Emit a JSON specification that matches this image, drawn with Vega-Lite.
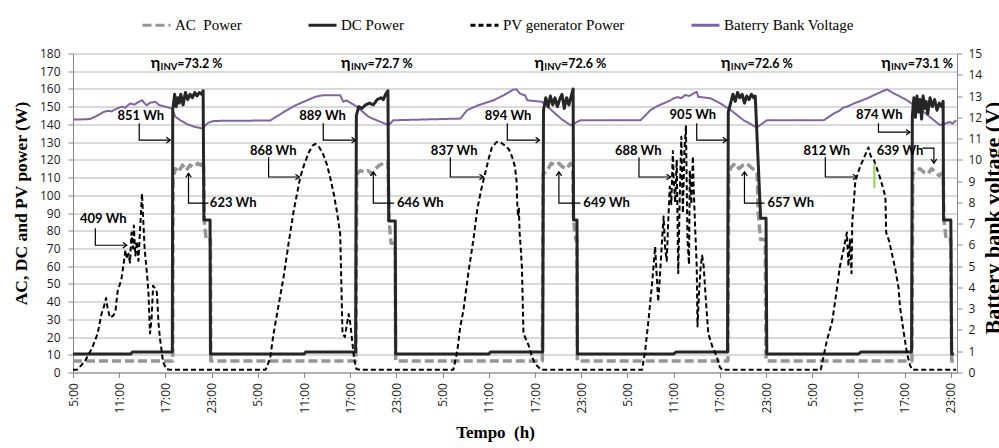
{
 "$schema": "https://vega.github.io/schema/vega-lite/v6.json",
 "autosize": {"type": "none"},
 "width": 884,
 "height": 319,
 "padding": {"left": 73, "top": 53.5, "right": 42, "bottom": 75.5},
 "background": "#ffffff",
 "config": {
  "view": {"stroke": null},
  "legend": {"symbolType": "stroke", "symbolSize": 784, "labelFont": "Liberation Serif", "labelFontSize": 15, "labelColor": "#000000", "columnPadding": 60, "labelOffset": 3, "padding": 0, "rowPadding": 0, "symbolStrokeWidth": 3}
 },
 "datasets": {
  "power": [
   {"s":"AC","t":0,"W":6.5},{"s":"AC","t":12.95,"W":6.5},{"s":"AC","t":13.0,"W":110},{"s":"AC","t":13.3,"W":115},{"s":"AC","t":13.7,"W":113},{"s":"AC","t":14.2,"W":117},{"s":"AC","t":14.7,"W":114},{"s":"AC","t":15.2,"W":117},{"s":"AC","t":15.7,"W":116},{"s":"AC","t":16.2,"W":118},{"s":"AC","t":16.6,"W":117},{"s":"AC","t":16.95,"W":119},{"s":"AC","t":17.05,"W":85},{"s":"AC","t":17.3,"W":75},{"s":"AC","t":17.85,"W":75},{"s":"AC","t":17.9,"W":6.5},
   {"s":"AC","t":36.75,"W":6.5},{"s":"AC","t":36.85,"W":112},{"s":"AC","t":37.3,"W":114},{"s":"AC","t":37.8,"W":113},{"s":"AC","t":38.3,"W":114},{"s":"AC","t":38.8,"W":112},{"s":"AC","t":39.3,"W":115},{"s":"AC","t":39.8,"W":117},{"s":"AC","t":40.3,"W":118},{"s":"AC","t":40.9,"W":119},{"s":"AC","t":41.05,"W":86},{"s":"AC","t":41.3,"W":73},{"s":"AC","t":41.85,"W":73},{"s":"AC","t":41.9,"W":6.5},
   {"s":"AC","t":60.95,"W":6.5},{"s":"AC","t":61.05,"W":112},{"s":"AC","t":61.6,"W":114},{"s":"AC","t":62.1,"W":118},{"s":"AC","t":62.6,"W":117},{"s":"AC","t":63.1,"W":118},{"s":"AC","t":63.6,"W":116},{"s":"AC","t":64.1,"W":115},{"s":"AC","t":64.6,"W":118},{"s":"AC","t":64.9,"W":117},{"s":"AC","t":65.0,"W":86},{"s":"AC","t":65.3,"W":75},{"s":"AC","t":65.45,"W":75},{"s":"AC","t":65.5,"W":6.5},
   {"s":"AC","t":85.05,"W":6.5},{"s":"AC","t":85.15,"W":113},{"s":"AC","t":85.5,"W":116},{"s":"AC","t":86.0,"W":118},{"s":"AC","t":86.5,"W":115},{"s":"AC","t":87.0,"W":117},{"s":"AC","t":87.5,"W":118},{"s":"AC","t":88.0,"W":116},{"s":"AC","t":88.5,"W":114},{"s":"AC","t":88.85,"W":113},{"s":"AC","t":89.0,"W":89},{"s":"AC","t":89.3,"W":75},{"s":"AC","t":89.9,"W":75},{"s":"AC","t":90.0,"W":6.5},
   {"s":"AC","t":108.95,"W":6.5},{"s":"AC","t":109.05,"W":112},{"s":"AC","t":109.5,"W":114},{"s":"AC","t":110.0,"W":115},{"s":"AC","t":110.5,"W":113},{"s":"AC","t":111.0,"W":112},{"s":"AC","t":111.5,"W":115},{"s":"AC","t":112.0,"W":113},{"s":"AC","t":112.5,"W":111},{"s":"AC","t":113.0,"W":113},{"s":"AC","t":113.1,"W":86},{"s":"AC","t":113.4,"W":75},{"s":"AC","t":114.0,"W":75},{"s":"AC","t":114.1,"W":6.5},{"s":"AC","t":114.7,"W":6.5},
   {"s":"DC","t":0,"W":10.5},{"s":"DC","t":7.5,"W":10.5},{"s":"DC","t":7.7,"W":11.5},{"s":"DC","t":12.9,"W":11.5},{"s":"DC","t":12.95,"W":148},{"s":"DC","t":13.2,"W":157},{"s":"DC","t":13.4,"W":150},{"s":"DC","t":13.6,"W":155},{"s":"DC","t":13.8,"W":152},{"s":"DC","t":14.0,"W":157},{"s":"DC","t":14.3,"W":151},{"s":"DC","t":14.6,"W":158},{"s":"DC","t":14.9,"W":154},{"s":"DC","t":15.2,"W":157},{"s":"DC","t":15.5,"W":155},{"s":"DC","t":15.8,"W":158},{"s":"DC","t":16.1,"W":156},{"s":"DC","t":16.4,"W":158},{"s":"DC","t":16.7,"W":157},{"s":"DC","t":16.9,"W":159},{"s":"DC","t":17.0,"W":86},{"s":"DC","t":17.8,"W":86},{"s":"DC","t":17.85,"W":10.5},
   {"s":"DC","t":30.0,"W":10.5},{"s":"DC","t":30.2,"W":11.5},{"s":"DC","t":36.7,"W":11.5},{"s":"DC","t":36.8,"W":145},{"s":"DC","t":37.1,"W":150},{"s":"DC","t":37.5,"W":149},{"s":"DC","t":38.0,"W":151},{"s":"DC","t":38.5,"W":152},{"s":"DC","t":39.0,"W":151},{"s":"DC","t":39.5,"W":154},{"s":"DC","t":40.0,"W":155},{"s":"DC","t":40.3,"W":154},{"s":"DC","t":40.6,"W":157},{"s":"DC","t":40.9,"W":159},{"s":"DC","t":41.0,"W":85.5},{"s":"DC","t":41.85,"W":85.5},{"s":"DC","t":41.9,"W":10.5},
   {"s":"DC","t":54.0,"W":10.5},{"s":"DC","t":54.2,"W":11.5},{"s":"DC","t":61.0,"W":11.5},{"s":"DC","t":61.1,"W":148},{"s":"DC","t":61.4,"W":155},{"s":"DC","t":61.7,"W":150},{"s":"DC","t":62.0,"W":156},{"s":"DC","t":62.3,"W":151},{"s":"DC","t":62.6,"W":155},{"s":"DC","t":62.9,"W":150},{"s":"DC","t":63.2,"W":154},{"s":"DC","t":63.5,"W":157},{"s":"DC","t":63.8,"W":149},{"s":"DC","t":64.1,"W":155},{"s":"DC","t":64.4,"W":151},{"s":"DC","t":64.7,"W":156},{"s":"DC","t":64.95,"W":160},{"s":"DC","t":65.0,"W":86},{"s":"DC","t":65.45,"W":86},{"s":"DC","t":65.5,"W":10.5},
   {"s":"DC","t":78.0,"W":10.5},{"s":"DC","t":78.3,"W":11.5},{"s":"DC","t":85.0,"W":11.5},{"s":"DC","t":85.1,"W":147},{"s":"DC","t":85.4,"W":152},{"s":"DC","t":85.7,"W":157},{"s":"DC","t":86.0,"W":153},{"s":"DC","t":86.3,"W":158},{"s":"DC","t":86.6,"W":155},{"s":"DC","t":86.9,"W":157},{"s":"DC","t":87.2,"W":152},{"s":"DC","t":87.5,"W":156},{"s":"DC","t":87.8,"W":154},{"s":"DC","t":88.1,"W":157},{"s":"DC","t":88.4,"W":155},{"s":"DC","t":88.6,"W":156},{"s":"DC","t":89.3,"W":87},{"s":"DC","t":90.0,"W":87},{"s":"DC","t":90.1,"W":10.5},
   {"s":"DC","t":102.0,"W":10.5},{"s":"DC","t":102.3,"W":11.5},{"s":"DC","t":108.9,"W":11.5},{"s":"DC","t":109.0,"W":145},{"s":"DC","t":109.2,"W":155},{"s":"DC","t":109.4,"W":144},{"s":"DC","t":109.6,"W":156},{"s":"DC","t":109.8,"W":147},{"s":"DC","t":110.0,"W":154},{"s":"DC","t":110.2,"W":143},{"s":"DC","t":110.4,"W":156},{"s":"DC","t":110.6,"W":149},{"s":"DC","t":110.8,"W":153},{"s":"DC","t":111.0,"W":146},{"s":"DC","t":111.3,"W":155},{"s":"DC","t":111.6,"W":150},{"s":"DC","t":111.9,"W":154},{"s":"DC","t":112.2,"W":148},{"s":"DC","t":112.5,"W":152},{"s":"DC","t":112.8,"W":150},{"s":"DC","t":113.0,"W":153},{"s":"DC","t":113.05,"W":86},{"s":"DC","t":114.0,"W":86},{"s":"DC","t":114.1,"W":10.5},{"s":"DC","t":114.4,"W":10.5},
   {"s":"PV","t":0,"W":1.5},{"s":"PV","t":0.5,"W":1.5},{"s":"PV","t":1.5,"W":6},{"s":"PV","t":2.5,"W":14},{"s":"PV","t":3.2,"W":22},{"s":"PV","t":3.7,"W":33},{"s":"PV","t":4.0,"W":37},{"s":"PV","t":4.3,"W":42},{"s":"PV","t":4.5,"W":36},{"s":"PV","t":4.8,"W":31},{"s":"PV","t":5.2,"W":32},{"s":"PV","t":5.5,"W":34},{"s":"PV","t":5.8,"W":46},{"s":"PV","t":6.1,"W":50},{"s":"PV","t":6.3,"W":53},{"s":"PV","t":6.6,"W":62},{"s":"PV","t":6.8,"W":69},{"s":"PV","t":7.0,"W":64},{"s":"PV","t":7.2,"W":67},{"s":"PV","t":7.4,"W":62},{"s":"PV","t":7.6,"W":79},{"s":"PV","t":7.8,"W":70},{"s":"PV","t":7.9,"W":83},{"s":"PV","t":8.1,"W":66},{"s":"PV","t":8.3,"W":74},{"s":"PV","t":8.5,"W":63},{"s":"PV","t":8.7,"W":80},{"s":"PV","t":8.96,"W":101},{"s":"PV","t":9.1,"W":88},{"s":"PV","t":9.3,"W":70},{"s":"PV","t":9.6,"W":56},{"s":"PV","t":9.8,"W":45},{"s":"PV","t":10.0,"W":22},{"s":"PV","t":10.2,"W":30},{"s":"PV","t":10.4,"W":49},{"s":"PV","t":10.7,"W":47},{"s":"PV","t":10.9,"W":45},{"s":"PV","t":11.1,"W":28},{"s":"PV","t":11.3,"W":19},{"s":"PV","t":11.7,"W":6},{"s":"PV","t":12.1,"W":2},{"s":"PV","t":12.6,"W":1.5},
   {"s":"PV","t":25.0,"W":1.5},{"s":"PV","t":25.6,"W":8},{"s":"PV","t":26.05,"W":22},{"s":"PV","t":26.7,"W":38},{"s":"PV","t":27.35,"W":54},{"s":"PV","t":28.0,"W":73},{"s":"PV","t":28.65,"W":91},{"s":"PV","t":29.1,"W":101},{"s":"PV","t":29.5,"W":110},{"s":"PV","t":30.0,"W":117},{"s":"PV","t":30.6,"W":124},{"s":"PV","t":31.1,"W":128},{"s":"PV","t":31.5,"W":129},{"s":"PV","t":32.0,"W":127},{"s":"PV","t":32.5,"W":123},{"s":"PV","t":33.0,"W":117},{"s":"PV","t":33.4,"W":110},{"s":"PV","t":33.9,"W":100},{"s":"PV","t":34.3,"W":90},{"s":"PV","t":34.7,"W":78},{"s":"PV","t":34.85,"W":50},{"s":"PV","t":35.0,"W":22},{"s":"PV","t":35.3,"W":20},{"s":"PV","t":35.6,"W":28},{"s":"PV","t":35.8,"W":33},{"s":"PV","t":36.0,"W":28},{"s":"PV","t":36.2,"W":20},{"s":"PV","t":36.5,"W":8},{"s":"PV","t":36.8,"W":2},{"s":"PV","t":37.3,"W":1.5},
   {"s":"PV","t":49.4,"W":1.5},{"s":"PV","t":49.9,"W":12},{"s":"PV","t":50.3,"W":26},{"s":"PV","t":50.7,"W":35},{"s":"PV","t":51.4,"W":58},{"s":"PV","t":52.0,"W":75},{"s":"PV","t":52.5,"W":92},{"s":"PV","t":53.0,"W":103},{"s":"PV","t":53.5,"W":112},{"s":"PV","t":54.0,"W":121},{"s":"PV","t":54.4,"W":127},{"s":"PV","t":55.0,"W":130},{"s":"PV","t":55.5,"W":130},{"s":"PV","t":56.1,"W":128},{"s":"PV","t":56.6,"W":126},{"s":"PV","t":57.0,"W":122},{"s":"PV","t":57.4,"W":116},{"s":"PV","t":57.6,"W":108},{"s":"PV","t":57.7,"W":95},{"s":"PV","t":57.8,"W":88},{"s":"PV","t":57.9,"W":93},{"s":"PV","t":58.0,"W":79},{"s":"PV","t":58.15,"W":70},{"s":"PV","t":58.3,"W":59},{"s":"PV","t":58.5,"W":22},{"s":"PV","t":58.9,"W":18},{"s":"PV","t":59.2,"W":15},{"s":"PV","t":59.6,"W":9},{"s":"PV","t":60.0,"W":5},{"s":"PV","t":60.8,"W":1.5},
   {"s":"PV","t":73.9,"W":1.5},{"s":"PV","t":74.3,"W":12},{"s":"PV","t":74.75,"W":30},{"s":"PV","t":75.2,"W":50},{"s":"PV","t":75.6,"W":71},{"s":"PV","t":75.8,"W":55},{"s":"PV","t":76.0,"W":40},{"s":"PV","t":76.3,"W":60},{"s":"PV","t":76.5,"W":75},{"s":"PV","t":76.7,"W":88},{"s":"PV","t":76.9,"W":70},{"s":"PV","t":77.1,"W":63},{"s":"PV","t":77.3,"W":85},{"s":"PV","t":77.5,"W":105},{"s":"PV","t":77.7,"W":95},{"s":"PV","t":77.9,"W":125},{"s":"PV","t":78.0,"W":110},{"s":"PV","t":78.2,"W":96},{"s":"PV","t":78.4,"W":120},{"s":"PV","t":78.6,"W":56},{"s":"PV","t":78.8,"W":100},{"s":"PV","t":79.0,"W":133},{"s":"PV","t":79.2,"W":90},{"s":"PV","t":79.4,"W":125},{"s":"PV","t":79.6,"W":139},{"s":"PV","t":79.8,"W":75},{"s":"PV","t":80.0,"W":61},{"s":"PV","t":80.1,"W":114},{"s":"PV","t":80.3,"W":95},{"s":"PV","t":80.5,"W":122},{"s":"PV","t":80.6,"W":105},{"s":"PV","t":80.8,"W":81},{"s":"PV","t":81.0,"W":60},{"s":"PV","t":81.1,"W":26},{"s":"PV","t":81.3,"W":45},{"s":"PV","t":81.5,"W":59},{"s":"PV","t":81.7,"W":66},{"s":"PV","t":81.9,"W":60},{"s":"PV","t":82.2,"W":40},{"s":"PV","t":82.5,"W":22},{"s":"PV","t":83.0,"W":15},{"s":"PV","t":83.6,"W":9},{"s":"PV","t":84.0,"W":3},{"s":"PV","t":84.3,"W":1.5},
   {"s":"PV","t":97.1,"W":1.5},{"s":"PV","t":97.9,"W":18},{"s":"PV","t":98.6,"W":29},{"s":"PV","t":99.1,"W":44},{"s":"PV","t":99.6,"W":60},{"s":"PV","t":100.1,"W":70},{"s":"PV","t":100.5,"W":79},{"s":"PV","t":100.7,"W":60},{"s":"PV","t":100.9,"W":75},{"s":"PV","t":101.1,"W":56},{"s":"PV","t":101.2,"W":85},{"s":"PV","t":101.4,"W":96},{"s":"PV","t":101.6,"W":108},{"s":"PV","t":101.9,"W":112},{"s":"PV","t":102.2,"W":116},{"s":"PV","t":102.7,"W":121},{"s":"PV","t":103.3,"W":127},{"s":"PV","t":103.6,"W":122},{"s":"PV","t":104.0,"W":120},{"s":"PV","t":104.4,"W":115},{"s":"PV","t":104.8,"W":110},{"s":"PV","t":105.2,"W":104},{"s":"PV","t":105.5,"W":99},{"s":"PV","t":105.6,"W":79},{"s":"PV","t":106.0,"W":74},{"s":"PV","t":106.4,"W":66},{"s":"PV","t":106.8,"W":58},{"s":"PV","t":107.2,"W":48},{"s":"PV","t":107.4,"W":37},{"s":"PV","t":107.9,"W":22},{"s":"PV","t":108.3,"W":11},{"s":"PV","t":108.7,"W":4},{"s":"PV","t":109.0,"W":1.5},{"s":"PV","t":114.7,"W":1.5}
  ],
  "volt": [
   {"s":"BV","t":0,"V":11.9},{"s":"BV","t":1,"V":11.9},{"s":"BV","t":2.2,"V":11.92},{"s":"BV","t":3.0,"V":12.05},{"s":"BV","t":4.0,"V":12.25},{"s":"BV","t":4.5,"V":12.3},{"s":"BV","t":5.0,"V":12.28},{"s":"BV","t":5.7,"V":12.41},{"s":"BV","t":6.3,"V":12.5},{"s":"BV","t":6.8,"V":12.45},{"s":"BV","t":7.4,"V":12.65},{"s":"BV","t":8.0,"V":12.6},{"s":"BV","t":8.5,"V":12.72},{"s":"BV","t":9.0,"V":12.8},{"s":"BV","t":9.3,"V":12.65},{"s":"BV","t":9.6,"V":12.57},{"s":"BV","t":10.0,"V":12.68},{"s":"BV","t":10.7,"V":12.73},{"s":"BV","t":11.2,"V":12.57},{"s":"BV","t":12.0,"V":12.5},{"s":"BV","t":12.85,"V":12.41},{"s":"BV","t":13.3,"V":12.02},{"s":"BV","t":14.0,"V":11.85},{"s":"BV","t":14.8,"V":11.68},{"s":"BV","t":15.8,"V":11.55},{"s":"BV","t":16.9,"V":11.47},{"s":"BV","t":17.2,"V":11.63},{"s":"BV","t":17.6,"V":11.75},{"s":"BV","t":18.3,"V":11.83},{"s":"BV","t":25.6,"V":11.85},{"s":"BV","t":26.5,"V":12.05},{"s":"BV","t":27.8,"V":12.34},{"s":"BV","t":29.0,"V":12.58},{"s":"BV","t":30.4,"V":12.8},{"s":"BV","t":31.5,"V":12.97},{"s":"BV","t":32.5,"V":13.04},{"s":"BV","t":34.7,"V":13.04},{"s":"BV","t":35.1,"V":12.73},{"s":"BV","t":35.5,"V":12.8},{"s":"BV","t":36.9,"V":12.49},{"s":"BV","t":38.4,"V":12.02},{"s":"BV","t":39.5,"V":11.85},{"s":"BV","t":41.0,"V":11.63},{"s":"BV","t":41.6,"V":11.86},{"s":"BV","t":50.3,"V":11.94},{"s":"BV","t":51.2,"V":12.34},{"s":"BV","t":52.5,"V":12.55},{"s":"BV","t":54.6,"V":12.8},{"s":"BV","t":56.0,"V":13.05},{"s":"BV","t":57.2,"V":13.31},{"s":"BV","t":57.6,"V":13.31},{"s":"BV","t":58.1,"V":13.1},{"s":"BV","t":58.7,"V":13.04},{"s":"BV","t":59.0,"V":12.8},{"s":"BV","t":60.9,"V":12.73},{"s":"BV","t":62.4,"V":12.25},{"s":"BV","t":63.5,"V":11.9},{"s":"BV","t":64.6,"V":11.63},{"s":"BV","t":65.9,"V":11.86},{"s":"BV","t":73.7,"V":11.86},{"s":"BV","t":75.0,"V":12.34},{"s":"BV","t":75.5,"V":12.45},{"s":"BV","t":76.3,"V":12.6},{"s":"BV","t":77.0,"V":12.7},{"s":"BV","t":77.6,"V":12.8},{"s":"BV","t":78.0,"V":12.89},{"s":"BV","t":78.5,"V":12.95},{"s":"BV","t":79.0,"V":12.9},{"s":"BV","t":79.5,"V":13.05},{"s":"BV","t":80.0,"V":13.0},{"s":"BV","t":80.5,"V":13.1},{"s":"BV","t":81.0,"V":13.2},{"s":"BV","t":81.2,"V":12.96},{"s":"BV","t":82.0,"V":12.93},{"s":"BV","t":82.8,"V":12.89},{"s":"BV","t":84.1,"V":12.65},{"s":"BV","t":85.4,"V":12.34},{"s":"BV","t":87.1,"V":11.86},{"s":"BV","t":88.8,"V":11.52},{"s":"BV","t":90.1,"V":11.86},{"s":"BV","t":97.5,"V":11.86},{"s":"BV","t":98.8,"V":12.18},{"s":"BV","t":99.5,"V":12.3},{"s":"BV","t":100.0,"V":12.45},{"s":"BV","t":100.5,"V":12.5},{"s":"BV","t":101.4,"V":12.65},{"s":"BV","t":102.5,"V":12.8},{"s":"BV","t":103.2,"V":12.9},{"s":"BV","t":104.0,"V":13.04},{"s":"BV","t":105.0,"V":13.2},{"s":"BV","t":105.7,"V":13.31},{"s":"BV","t":106.6,"V":13.12},{"s":"BV","t":107.3,"V":13.0},{"s":"BV","t":108.3,"V":12.8},{"s":"BV","t":109.5,"V":12.5},{"s":"BV","t":110.5,"V":12.25},{"s":"BV","t":111.5,"V":11.95},{"s":"BV","t":112.6,"V":11.63},{"s":"BV","t":113.9,"V":11.78},{"s":"BV","t":114.2,"V":11.7},{"s":"BV","t":114.7,"V":11.86}
  ],
  "labels": [
   {"t":3.94,"W":86.4,"lbl":"409 Wh"},{"t":8.8,"W":144.8,"lbl":"851 Wh"},{"t":20.8,"W":95.6,"lbl":"623 Wh"},{"t":26.0,"W":125,"lbl":"868 Wh"},{"t":32.4,"W":144.6,"lbl":"889 Wh"},{"t":45.1,"W":95.4,"lbl":"646 Wh"},{"t":49.5,"W":125,"lbl":"837 Wh"},{"t":56.5,"W":144.6,"lbl":"894 Wh"},{"t":69.3,"W":95.6,"lbl":"649 Wh"},{"t":73.4,"W":125,"lbl":"688 Wh"},{"t":80.5,"W":145.2,"lbl":"905 Wh"},{"t":93.2,"W":95.6,"lbl":"657 Wh"},{"t":97.9,"W":125,"lbl":"812 Wh"},{"t":104.7,"W":145.2,"lbl":"874 Wh"},{"t":107.4,"W":125,"lbl":"639 Wh"}
  ],
  "arrows": [
   {"id":1,"k":1,"t":2.9,"W":81.4},{"id":1,"k":2,"t":2.9,"W":71.8},{"id":1,"k":3,"t":7.0,"W":71.8},
   {"id":2,"k":1,"t":8.6,"W":140.7},{"id":2,"k":2,"t":8.6,"W":131.1},{"id":2,"k":3,"t":12.64,"W":131.1},
   {"id":3,"k":1,"t":17.6,"W":95.6},{"id":3,"k":2,"t":15.0,"W":95.6},{"id":3,"k":3,"t":15.0,"W":112.4},
   {"id":4,"k":1,"t":25.4,"W":121.5},{"id":4,"k":2,"t":25.4,"W":110.3},{"id":4,"k":3,"t":29.4,"W":110.3},
   {"id":5,"k":1,"t":32.5,"W":140.7},{"id":5,"k":2,"t":32.5,"W":131.1},{"id":5,"k":3,"t":36.7,"W":131.1},
   {"id":6,"k":1,"t":41.7,"W":95.6},{"id":6,"k":2,"t":39.0,"W":95.6},{"id":6,"k":3,"t":39.0,"W":113.2},
   {"id":7,"k":1,"t":49.0,"W":121.5},{"id":7,"k":2,"t":49.0,"W":110.3},{"id":7,"k":3,"t":53.3,"W":110.3},
   {"id":8,"k":1,"t":56.4,"W":140.7},{"id":8,"k":2,"t":56.4,"W":131.1},{"id":8,"k":3,"t":60.6,"W":131.1},
   {"id":9,"k":1,"t":65.9,"W":95.6},{"id":9,"k":2,"t":63.1,"W":95.6},{"id":9,"k":3,"t":63.1,"W":113.2},
   {"id":10,"k":1,"t":73.5,"W":121.5},{"id":10,"k":2,"t":73.5,"W":110.3},{"id":10,"k":3,"t":77.6,"W":110.3},
   {"id":11,"k":1,"t":81.0,"W":140.7},{"id":11,"k":2,"t":81.0,"W":131.1},{"id":11,"k":3,"t":84.9,"W":131.1},
   {"id":12,"k":1,"t":89.8,"W":95.6},{"id":12,"k":2,"t":87.2,"W":95.6},{"id":12,"k":3,"t":87.2,"W":113.2},
   {"id":13,"k":1,"t":97.7,"W":121.5},{"id":13,"k":2,"t":97.7,"W":110.3},{"id":13,"k":3,"t":101.8,"W":110.3},
   {"id":14,"k":1,"t":104.6,"W":140.7},{"id":14,"k":2,"t":104.6,"W":135.6},{"id":14,"k":3,"t":108.7,"W":135.6},
   {"id":15,"k":1,"t":110.3,"W":126.6},{"id":15,"k":2,"t":111.8,"W":126.6},{"id":15,"k":3,"t":111.8,"W":118.1}
  ],
  "heads": [
   {"t":7.0,"W":71.8,"dir":"right"},{"t":12.64,"W":131.1,"dir":"right"},{"t":15.0,"W":112.4,"dir":"up"},{"t":29.4,"W":110.3,"dir":"right"},{"t":36.7,"W":131.1,"dir":"right"},{"t":39.0,"W":113.2,"dir":"up"},{"t":53.3,"W":110.3,"dir":"right"},{"t":60.6,"W":131.1,"dir":"right"},{"t":63.1,"W":113.2,"dir":"up"},{"t":77.6,"W":110.3,"dir":"right"},{"t":84.9,"W":131.1,"dir":"right"},{"t":87.2,"W":113.2,"dir":"up"},{"t":101.8,"W":110.3,"dir":"right"},{"t":108.7,"W":135.6,"dir":"right"},{"t":111.8,"W":118.1,"dir":"down"}
  ],
  "eta": [
   {"t":13.55,"W":172,"lbl":"=73.2 %"},{"t":38.26,"W":172,"lbl":"=72.7 %"},{"t":63.38,"W":172,"lbl":"=72.6 %"},{"t":87.6,"W":172,"lbl":"=72.6 %"},{"t":108.4,"W":172,"lbl":"=73.1 %"}
  ],
  "green": [{"t":104.07,"W":104,"W2":118}]
 },
 "encoding": {
  "x": {"field": "t", "type": "quantitative",
   "scale": {"domain": [0, 114.8], "nice": false, "zero": false},
   "axis": {"values": [0,6,12,18,24,30,36,42,48,54,60,66,72,78,84,90,96,102,108,114],
    "labelExpr": "((datum.value + 5) % 24) + ':00'",
    "labelAngle": -90, "labelFont": "Open Sans", "labelFontSize": 12, "labelColor": "#1a1a1a",
    "labelPadding": 5, "labelOverlap": false, "labelFlush": false,
    "tickSize": 5, "tickColor": "#868686", "domainColor": "#868686", "grid": false,
    "title": "Tempo\u00a0 (h)", "titleFont": "Liberation Serif", "titleFontSize": 17, "titleFontWeight": "bold", "titleColor": "#000000",
    "titleX": 422, "titleY": 65, "titleAlign": "center", "titleBaseline": "alphabetic"}}
 },
 "layer": [
  {
   "data": {"name": "volt"},
   "mark": {"type": "line", "strokeWidth": 2, "strokeJoin": "round"},
   "encoding": {
    "y": {"field": "V", "type": "quantitative", "scale": {"domain": [0, 15], "nice": false},
     "axis": {"orient": "right", "values": [0,1,2,3,4,5,6,7,8,9,10,11,12,13,14,15], "grid": false,
      "tickSize": 5, "tickColor": "#868686", "domainColor": "#868686",
      "labelFont": "Open Sans", "labelFontSize": 12, "labelColor": "#1a1a1a", "labelPadding": 6,
      "title": "Battery bank voltage (V)", "titleFont": "Liberation Serif", "titleFontSize": 22, "titleFontWeight": "bold", "titleColor": "#000000",
      "titleAngle": -90, "titleX": 42, "titleY": 164, "titleAlign": "center", "titleBaseline": "alphabetic"}},
    "color": {"field": "s", "type": "nominal", "title": null,
     "scale": {"domain": ["AC","DC","PV","BV"], "range": ["#959595","#262626","#000000","#8064A2"]},
     "legend": {"orient": "none", "legendX": 68, "legendY": -44, "direction": "horizontal", "columns": 4,
      "labelExpr": "datum.label == 'AC' ? 'AC\u00a0 Power' : datum.label == 'DC' ? 'DC Power' : datum.label == 'PV' ? 'PV generator Power' : 'Baterry Bank Voltage'"}},
    "strokeDash": {"field": "s", "type": "nominal", "title": null,
     "scale": {"domain": ["AC","DC","PV","BV"], "range": [[9,4],[1,0],[5,3],[1,0]]},
     "legend": {"orient": "none", "legendX": 68, "legendY": -44, "direction": "horizontal", "columns": 4,
      "labelExpr": "datum.label == 'AC' ? 'AC\u00a0 Power' : datum.label == 'DC' ? 'DC Power' : datum.label == 'PV' ? 'PV generator Power' : 'Baterry Bank Voltage'"}}
   }
  },
  {
   "encoding": {
    "y": {"field": "W", "type": "quantitative", "scale": {"domain": [0, 180], "nice": false},
     "axis": {"orient": "left", "values": [0,10,20,30,40,50,60,70,80,90,100,110,120,130,140,150,160,170,180],
      "grid": true, "gridColor": "#b4b4b4", "gridWidth": 1,
      "tickSize": 5, "tickColor": "#868686", "domainColor": "#868686",
      "labelFont": "Open Sans", "labelFontSize": 12, "labelColor": "#1a1a1a", "labelPadding": 8,
      "title": "AC, DC and PV power (W)", "titleFont": "Liberation Serif", "titleFontSize": 17.5, "titleFontWeight": "bold", "titleColor": "#000000",
      "titleAngle": -90, "titleX": -47, "titleY": 149.5, "titleAlign": "center", "titleBaseline": "alphabetic"}}
   },
   "layer": [
    {
     "data": {"name": "power"},
     "mark": {"type": "line", "strokeJoin": "round"},
     "encoding": {
      "color": {"field": "s", "type": "nominal", "title": null,
       "scale": {"domain": ["AC","DC","PV","BV"], "range": ["#959595","#262626","#000000","#8064A2"]},
       "legend": {"orient": "none", "legendX": 68, "legendY": -44, "direction": "horizontal", "columns": 4,
        "labelExpr": "datum.label == 'AC' ? 'AC\u00a0 Power' : datum.label == 'DC' ? 'DC Power' : datum.label == 'PV' ? 'PV generator Power' : 'Baterry Bank Voltage'"}},
      "strokeDash": {"field": "s", "type": "nominal", "title": null,
       "scale": {"domain": ["AC","DC","PV","BV"], "range": [[9,4],[1,0],[5,3],[1,0]]},
       "legend": {"orient": "none", "legendX": 68, "legendY": -44, "direction": "horizontal", "columns": 4,
        "labelExpr": "datum.label == 'AC' ? 'AC\u00a0 Power' : datum.label == 'DC' ? 'DC Power' : datum.label == 'PV' ? 'PV generator Power' : 'Baterry Bank Voltage'"}},
      "strokeWidth": {"condition": [{"test": "datum.s == 'AC'", "value": 3.5}, {"test": "datum.s == 'DC'", "value": 3}], "value": 2}
     }
    },
    {
     "data": {"name": "green"},
     "mark": {"type": "rule", "color": "#92D050", "strokeWidth": 2},
     "encoding": {"y2": {"field": "W2"}}
    },
    {
     "data": {"name": "arrows"},
     "mark": {"type": "line", "color": "#000000", "strokeWidth": 1.2},
     "encoding": {"detail": {"field": "id", "type": "nominal"}, "order": {"field": "k", "type": "quantitative"}}
    },
    {
     "data": {"name": "heads"},
     "mark": {"type": "point", "filled": false, "color": "#000000", "strokeWidth": 1.2, "size": 64, "opacity": 1},
     "encoding": {"shape": {"field": "dir", "type": "nominal", "legend": null,
      "scale": {"domain": ["right","up","down"], "range": ["M-1,-0.7L0,0L-1,0.7", "M-0.7,1L0,0L0.7,1", "M-0.7,-1L0,0L0.7,-1"]}}}
    },
    {
     "data": {"name": "labels"},
     "mark": {"type": "text", "font": "Lato", "fontWeight": "bold", "fontSize": 13, "color": "#000000", "align": "center", "baseline": "middle"},
     "encoding": {"text": {"field": "lbl"}}
    },
    {
     "data": {"name": "eta"},
     "mark": {"type": "text", "font": "Lato", "fontWeight": "bold", "fontSize": 12.5, "color": "#000000", "align": "left", "baseline": "alphabetic"},
     "encoding": {"text": {"field": "lbl"}}
    },
    {
     "data": {"name": "eta"},
     "mark": {"type": "text", "text": "INV", "font": "Lato", "fontWeight": "bold", "fontSize": 9.5, "color": "#000000", "align": "right", "baseline": "alphabetic", "dy": 2}
    },
    {
     "data": {"name": "eta"},
     "mark": {"type": "text", "text": "η", "font": "Lato", "fontWeight": "bold", "fontSize": 16, "color": "#000000", "align": "right", "baseline": "alphabetic", "dx": -17}
    }
   ]
  }
 ],
 "resolve": {"scale": {"y": "independent"}}
}
